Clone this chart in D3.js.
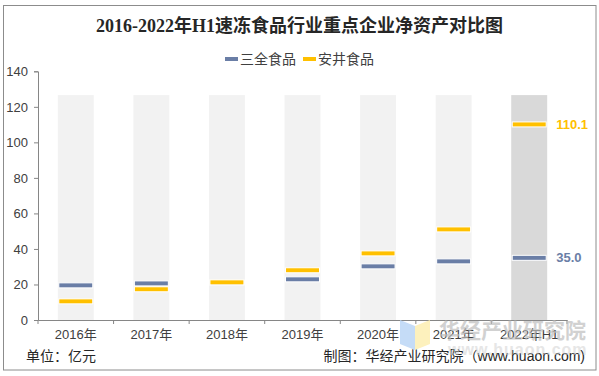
<!DOCTYPE html>
<html>
<head>
<meta charset="utf-8">
<script src="https://cdn.jsdelivr.net/npm/d3@7"></script>
<style>
  html, body { margin: 0; padding: 0; background: #fff; }
  svg { display: block; }
</style>
</head>
<body>
<svg id="chart" width="599" height="376"></svg>
<script>
// ---------- data ----------
const categories = ["2016年", "2017年", "2018年", "2019年", "2020年", "2021年", "2022年H1"];
const sanquan = [19.5, 20.6, 21.0, 22.9, 30.2, 33.0, 35.0];   // 三全食品
const anjing  = [10.5, 17.3, 21.2, 28.0, 37.5, 51.0, 110.1];  // 安井食品
const backgroundMax = [126.6, 126.6, 126.6, 126.6, 126.6, 126.6, 126.6];
const seriesNames = ["三全食品", "安井食品"];
const yTicks = [0, 20, 40, 60, 80, 100, 120, 140];
const titleText = "2016-2022年H1速冻食品行业重点企业净资产对比图";
const unitText = "单位：亿元";
const sourceText = "制图：华经产业研究院（www.huaon.com)";

// ---------- layout ----------
const svg = d3.select("#chart");
const W = 599, H = 376;
const plotL = 38, plotR = 567, plotT = 71.3, plotB = 320;
const blue = "#6a7ea6", gold = "#ffc000";
const axisColor = "#868686";
const sans = "'Liberation Sans', Arial, 'Noto Sans CJK SC', sans-serif";
const cjk = "'Liberation Sans', 'Noto Sans CJK SC', sans-serif";

// outer border
svg.append("rect").attr("x", 3.5).attr("y", 5.5).attr("width", 592.5).attr("height", 364.5)
  .attr("fill", "#fff").attr("stroke", "#8c8c8c").attr("stroke-width", 1);

const x = d3.scaleBand().domain(categories).range([plotL, plotR])
  .paddingInner(0.524).paddingOuter(0.262);
const y = d3.scaleLinear().domain([0, 140]).range([plotB, plotT]);

// title
svg.append("text").attr("x", W / 2).attr("y", 32).attr("text-anchor", "middle")
  .attr("font-family", "'Liberation Serif', 'Noto Sans CJK SC', serif")
  .attr("font-weight", "bold").attr("font-size", 18).attr("fill", "#262626")
  .text(titleText);

// legend
const legend = svg.append("g");
const legItems = [{name: seriesNames[0], color: blue, x: 225}, {name: seriesNames[1], color: gold, x: 303}];
legItems.forEach(d => {
  legend.append("rect").attr("x", d.x).attr("y", 57).attr("width", 13).attr("height", 4).attr("fill", d.color);
  legend.append("text").attr("x", d.x + 15).attr("y", 64).attr("font-family", cjk)
    .attr("font-size", 14).attr("fill", "#404040").text(d.name);
});

// background bars
svg.append("g").selectAll("rect").data(categories).join("rect")
  .attr("x", d => x(d)).attr("width", x.bandwidth())
  .attr("y", (d, i) => y(backgroundMax[i]))
  .attr("height", (d, i) => y(0) - y(backgroundMax[i]))
  .attr("fill", (d, i) => i === categories.length - 1 ? "#d9d9d9" : "#f2f2f2");

// markers
function drawMarkers(values, color) {
  svg.append("g").selectAll("rect").data(values).join("rect")
    .attr("x", (d, i) => x(categories[i]) + 1)
    .attr("width", x.bandwidth() - 2)
    .attr("y", d => y(d) - 2.5)
    .attr("height", 5)
    .attr("fill", color).attr("stroke", "#fff").attr("stroke-width", 1);
}
drawMarkers(sanquan, blue);
drawMarkers(anjing, gold);

// data labels for last category
const lastCat = categories[categories.length - 1];
const lx = x(lastCat) + x.bandwidth() + 9;
svg.append("text").attr("x", lx).attr("y", y(anjing[anjing.length - 1]) + 4.5)
  .attr("font-family", sans).attr("font-weight", "bold").attr("font-size", 13)
  .attr("fill", gold).text(d3.format(".1f")(anjing[anjing.length - 1]));
svg.append("text").attr("x", lx).attr("y", y(sanquan[sanquan.length - 1]) + 4.5)
  .attr("font-family", sans).attr("font-weight", "bold").attr("font-size", 13)
  .attr("fill", blue).text(d3.format(".1f")(sanquan[sanquan.length - 1]));

// y axis
const yAxis = svg.append("g").attr("transform", `translate(${plotL},0)`)
  .call(d3.axisLeft(y).tickValues(yTicks).tickSize(4).tickPadding(6));
yAxis.select(".domain").attr("stroke", axisColor);
yAxis.selectAll(".tick line").attr("stroke", axisColor);
yAxis.selectAll("text").attr("font-family", sans).attr("font-size", 13).attr("fill", "#404040");

// x axis
const xAxis = svg.append("g").attr("transform", `translate(0,${plotB})`)
  .call(d3.axisBottom(x).tickSize(0).tickPadding(10).tickSizeOuter(0));
xAxis.select(".domain").attr("stroke", axisColor);
xAxis.selectAll("text").attr("font-family", cjk).attr("font-size", 13).attr("fill", "#404040");
const boundaries = d3.range(categories.length + 1).map(i => x.range()[0] + i * x.step());
xAxis.selectAll(".bound").data(boundaries).join("line").attr("class", "bound")
  .attr("x1", d => d).attr("x2", d => d).attr("y1", 0).attr("y2", 4).attr("stroke", axisColor);

// footer
svg.append("text").attr("x", 26).attr("y", 361).attr("font-family", cjk).attr("font-size", 14)
  .attr("fill", "#262626").text(unitText);
svg.append("text").attr("x", 585).attr("y", 361).attr("text-anchor", "end")
  .attr("font-family", cjk).attr("font-size", 14).attr("fill", "#262626").text(sourceText);

// watermark
const wm = svg.append("g").attr("opacity", 0.85);
wm.append("polygon").attr("points", "400,320 415,326 415,350 400,344").attr("fill", "#bcd6f6");
wm.append("polygon").attr("points", "415,326 430,320 430,344 415,350").attr("fill", "#fdefb2");
wm.append("text").attr("x", 439).attr("y", 338).attr("font-family", "'Noto Sans CJK SC', sans-serif")
  .attr("font-weight", "bold").attr("font-size", 21).attr("fill", "#bdbdbd").attr("opacity", 0.8)
  .text("华经产业研究院");
wm.append("text").attr("x", 448).attr("y", 355).attr("font-family", sans)
  .attr("font-weight", "bold").attr("font-size", 16).attr("fill", "#cfcfcf").attr("opacity", 0.6)
  .attr("letter-spacing", 1).text("www.huaon.com");
</script>
</body>
</html>
